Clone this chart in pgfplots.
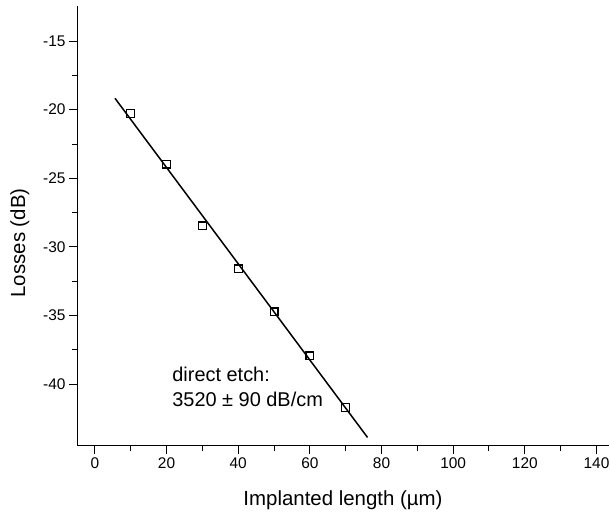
\documentclass[border=0pt]{standalone}
\usepackage{fontspec}
\setmainfont{Liberation Sans}
\usepackage{pgfplots}
\pgfplotsset{compat=1.18}

\begin{document}
\begin{tikzpicture}
\useasboundingbox (0,0) rectangle (610bp,512bp);
\begin{axis}[
    at={(77bp,66.3bp)}, anchor=south west,
    scale only axis,
    width=532bp, height=439.7bp,
    xmin=-5, xmax=143.5,
    ymin=-44.47, ymax=-12.45,
    axis x line*=bottom, axis y line*=left,
    axis line style={line width=1bp},
    tick align=outside,
    xtick={0,20,...,140},
    ytick={-40,-35,...,-15},
    minor x tick num=1, minor y tick num=1,
    major tick length=8bp, minor tick length=5bp,
    every tick/.style={black, line width=1bp},
    /pgf/number format/assume math mode=true,
    tick label style={font=\fontsize{15.5}{18}\selectfont},
    xlabel={Implanted length (µm)},
    ylabel={Losses (dB)},
    label style={font=\fontsize{20.5}{24}\selectfont},
    xlabel style={at={(axis description cs:0.5,-0.137)}, anchor=base},
    ylabel style={at={(axis description cs:-0.0977,0.461)}, anchor=base},
]
% linear fit
\addplot[black, line width=1.5bp] coordinates {(5.6,-19.17) (76.1,-43.87)};
% measured losses
\addplot[black, only marks, mark=square, mark size=3.9bp,
    mark options={line width=1.2bp}] coordinates {
    (10,-20.26) (20,-23.97) (30,-28.46) (40,-31.6)
    (50,-34.72) (60,-37.93) (70,-41.7)
};
\node[anchor=base west, font=\fontsize{20}{24}\selectfont]
    at (axis cs:20.65,-39.8) {direct etch:};
\node[anchor=base west, font=\fontsize{20}{24}\selectfont]
    at (axis cs:20.65,-41.62) {3520 ± 90 dB/cm};
\end{axis}
\end{tikzpicture}
\end{document}
